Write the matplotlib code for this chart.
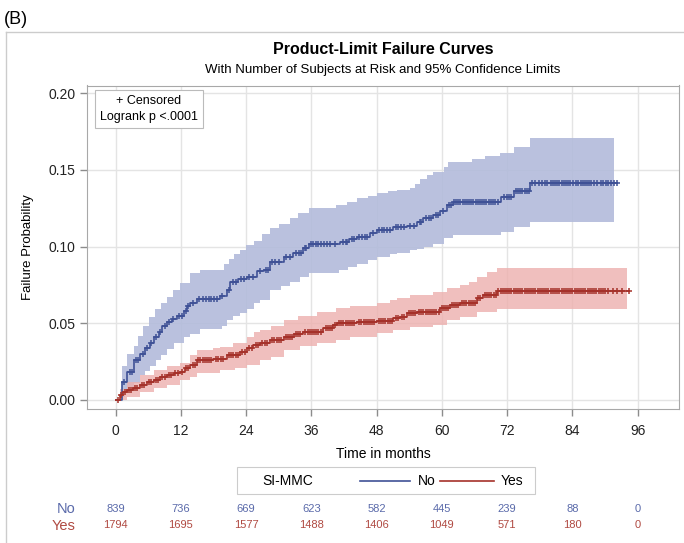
import numpy as np
import matplotlib.pyplot as plt
from matplotlib.patches import Rectangle
from matplotlib.lines import Line2D
import matplotlib.transforms as mtransforms

plt.rcParams["font.family"] = ["Liberation Sans", "DejaVu Sans"]

W, H = 684, 543

# failure curve, group "No"
t_no = [0, 1.1, 2.1, 3.3, 4.5, 5.4, 6.3, 7.1, 7.9, 8.6, 9.4, 10.4, 11.3, 12.5, 13.1, 13.7, 14.9,
        19.2, 20.4, 21.1, 22.5, 24.1, 26.0, 27.2, 28.4, 30.9, 32.7, 34.5, 35.5, 41.3, 43.0, 44.4,
        46.8, 48.0, 51.1, 53.6, 55.4, 56.6, 58.4, 59.7, 60.9, 62.0, 70.9, 73.2, 76.2, 92.2]
p_no = [0, 0.012, 0.018, 0.026, 0.030, 0.034, 0.037, 0.041, 0.044, 0.048, 0.051, 0.053, 0.055, 0.058,
        0.061, 0.063, 0.066, 0.068, 0.072, 0.077, 0.079, 0.080, 0.084, 0.085, 0.090, 0.093, 0.096,
        0.099, 0.102, 0.103, 0.105, 0.1065, 0.109, 0.111, 0.1126, 0.1134, 0.116, 0.119, 0.1206,
        0.1234, 0.127, 0.129, 0.1326, 0.1365, 0.1413, 0.1413]

t_no_hi = [0, 1.1, 2.1, 3.3, 4.2, 5.1, 6.2, 7.3, 8.3, 9.4, 10.6, 11.9, 13.7, 15.5, 20.0, 20.8, 21.8,
           22.9, 24.0, 25.5, 27.0, 28.4, 30.0, 32.1, 33.5, 35.5, 40.5, 42.5, 44.4, 46.5, 48.0, 50.0,
           51.7, 54.2, 55.0, 56.0, 57.2, 58.4, 60.3, 61.2, 65.5, 68.0, 70.7, 73.2, 76.2, 91.6]
p_no_hi = [0, 0.022, 0.030, 0.035, 0.042, 0.048, 0.054, 0.059, 0.063, 0.067, 0.072, 0.076, 0.083,
           0.085, 0.089, 0.092, 0.095, 0.098, 0.101, 0.104, 0.108, 0.112, 0.115, 0.119, 0.122, 0.125,
           0.127, 0.129, 0.1315, 0.133, 0.135, 0.136, 0.137, 0.138, 0.141, 0.144, 0.147, 0.149, 0.152,
           0.155, 0.157, 0.159, 0.161, 0.165, 0.171, 0.171]

t_no_lo = [0, 1.1, 1.7, 2.5, 3.3, 4.5, 5.4, 6.3, 7.5, 8.4, 9.4, 10.8, 12.5, 13.6, 15.5, 19.6, 20.4,
           21.5, 22.8, 24.1, 25.5, 26.6, 28.4, 30.5, 32.1, 34.0, 35.5, 41.0, 42.8, 44.4, 46.5, 48.0,
           50.5, 51.7, 54.2, 55.4, 56.8, 58.4, 60.3, 62.0, 70.9, 73.2, 76.2, 91.6]
p_no_lo = [0, 0.002, 0.0045, 0.008, 0.011, 0.016, 0.019, 0.022, 0.026, 0.029, 0.033, 0.037, 0.041,
           0.043, 0.046, 0.048, 0.052, 0.055, 0.057, 0.059, 0.063, 0.065, 0.0717, 0.074, 0.077, 0.080,
           0.0826, 0.085, 0.087, 0.089, 0.091, 0.0934, 0.095, 0.0956, 0.098, 0.0985, 0.100, 0.102,
           0.1054, 0.1076, 0.1097, 0.113, 0.116, 0.116]

# failure curve, group "Yes"
t_yes = [0, 0.8, 1.4, 2.1, 3.2, 4.5, 5.8, 7.0, 8.2, 9.4, 10.7, 11.9, 12.8, 13.7, 14.9, 18.0, 20.4,
         22.9, 24.2, 25.3, 26.6, 28.4, 30.9, 32.8, 34.5, 38.2, 40.0, 40.7, 44.4, 48.0, 51.1, 52.3,
         53.6, 55.4, 59.7, 61.5, 63.4, 66.4, 67.6, 70.1, 94.4]
p_yes = [0, 0.003, 0.005, 0.0065, 0.008, 0.0098, 0.0115, 0.013, 0.0148, 0.0163, 0.0175, 0.0185,
         0.021, 0.0228, 0.026, 0.027, 0.029, 0.0315, 0.034, 0.0358, 0.037, 0.039, 0.0413, 0.043,
         0.0445, 0.0467, 0.049, 0.0504, 0.051, 0.0517, 0.0532, 0.0543, 0.0565, 0.0576, 0.0598,
         0.062, 0.0635, 0.0663, 0.0685, 0.0711, 0.0711]

t_yes_hi = [0, 0.8, 2.1, 4.5, 7.0, 9.4, 11.9, 13.7, 14.9, 18.0, 19.2, 21.5, 24.1, 25.5, 26.6, 28.5,
            30.9, 33.5, 37.0, 40.5, 43.1, 48.0, 50.5, 51.7, 54.2, 58.4, 61.0, 63.4, 65.0, 66.4, 68.3,
            70.1, 94.0]
p_yes_hi = [0, 0.007, 0.012, 0.016, 0.0196, 0.022, 0.024, 0.029, 0.0326, 0.034, 0.0348, 0.037,
            0.041, 0.044, 0.0456, 0.048, 0.052, 0.055, 0.0576, 0.060, 0.061, 0.063, 0.065, 0.0663,
            0.0685, 0.0706, 0.073, 0.075, 0.077, 0.0804, 0.0837, 0.0859, 0.0859]

t_yes_lo = [0, 2.1, 4.5, 7.0, 9.4, 11.9, 13.7, 14.9, 19.2, 22.0, 24.1, 26.6, 28.5, 30.9, 34.0, 37.0,
            40.5, 43.1, 48.0, 51.0, 54.2, 58.4, 61.0, 63.4, 66.4, 70.1, 94.0]
p_yes_lo = [0, 0.002, 0.005, 0.0076, 0.010, 0.013, 0.015, 0.0174, 0.0196, 0.021, 0.0228, 0.026,
            0.028, 0.0326, 0.035, 0.037, 0.039, 0.0413, 0.0435, 0.0456, 0.0478, 0.049, 0.052, 0.0543,
            0.0576, 0.059, 0.059]

# censored times
cens_no = [1.6, 2.6, 3.0, 3.8, 4.2, 5.0, 5.8, 6.6, 7.4, 8.2, 9.0, 9.8, 10.6, 11.6, 12.2, 12.9, 13.4,
           14.2, 15.4, 16.0, 16.6, 17.1, 17.6, 18.1, 18.6, 19.6, 20.8, 21.6, 22.2, 23.0, 23.6, 24.6,
           25.2, 26.5, 27.6, 28.0, 28.8, 29.4, 30.0, 31.4, 32.0, 33.2, 33.8, 34.1, 34.8, 35.0, 35.9,
           36.3, 36.8, 37.3, 37.8, 38.3, 38.8, 39.4, 40.4, 41.8, 42.3, 42.6, 43.5, 43.9, 44.8, 45.3,
           45.8, 46.2, 47.3, 48.4, 48.9, 49.4, 49.9, 50.5, 51.6, 52.0, 52.5, 53.0, 54.2, 54.8, 55.9,
           56.2, 57.0, 57.6, 58.0, 58.9, 59.3, 60.2, 61.4, 61.7, 62.3, 62.6, 63.0, 63.4, 63.8, 64.2,
           64.6, 65.0, 65.4, 65.8, 66.2, 66.6, 67.0, 67.4, 67.8, 68.2, 68.6, 69.0, 69.4, 69.8, 70.3,
           71.5, 71.9, 72.3, 72.7, 73.6, 74.0, 74.4, 74.8, 75.2, 75.6, 76.0, 76.6, 77.2, 77.8, 78.4,
           78.9, 79.4, 80.0, 80.4, 80.8, 81.2, 81.6, 82.0, 82.4, 82.8, 83.2, 83.6, 84.1, 84.6, 85.1,
           85.5, 85.9, 86.3, 86.7, 87.1, 87.5, 88.0, 88.6, 89.2, 89.7, 90.2, 90.6, 91.1, 91.6, 92.2]
cens_yes = [0.5, 1.0, 1.8, 2.4, 2.8, 3.5, 3.9, 4.8, 5.3, 6.2, 6.6, 7.4, 7.8, 8.6, 9.0, 9.8, 10.2,
            11.0, 11.4, 12.2, 13.0, 13.4, 14.2, 14.6, 15.2, 15.6, 16.0, 16.4, 16.8, 17.2, 17.6, 18.4,
            18.8, 19.4, 19.8, 20.8, 21.2, 21.6, 22.1, 22.5, 23.3, 23.8, 24.6, 25.0, 25.8, 26.2, 27.0,
            27.4, 27.8, 28.8, 29.2, 29.6, 30.1, 30.5, 31.3, 31.7, 32.1, 32.5, 33.2, 33.6, 34.0, 34.9,
            35.3, 35.7, 36.1, 36.5, 36.9, 37.3, 37.7, 38.6, 39.0, 39.4, 39.8, 40.3, 41.1, 41.5, 41.9,
            42.3, 42.7, 43.1, 43.5, 43.9, 44.8, 45.2, 45.6, 46.0, 46.4, 46.8, 47.2, 47.6, 48.4, 48.8,
            49.2, 49.6, 50.0, 50.4, 50.8, 51.5, 51.9, 52.6, 53.0, 53.9, 54.3, 54.7, 55.1, 55.8, 56.2,
            56.6, 57.0, 57.4, 57.8, 58.2, 58.6, 59.0, 59.4, 60.0, 60.4, 60.8, 61.2, 61.8, 62.2, 62.6,
            63.0, 63.7, 64.1, 64.5, 64.9, 65.3, 65.7, 66.1, 66.7, 67.1, 67.9, 68.3, 68.7, 69.1, 69.5,
            69.9, 70.4, 70.8, 71.2, 71.6, 72.0, 72.4, 72.8, 73.2, 73.6, 74.0, 74.4, 74.8, 75.2, 75.6,
            76.0, 76.4, 76.8, 77.2, 77.6, 78.0, 78.4, 78.8, 79.2, 79.6, 80.0, 80.4, 80.8, 81.2, 81.6,
            82.0, 82.4, 82.8, 83.2, 83.6, 84.0, 84.4, 84.8, 85.2, 85.6, 86.0, 86.4, 86.8, 87.2, 87.6,
            88.0, 88.4, 88.8, 89.2, 89.6, 90.0, 90.5, 91.5, 92.2, 93.2, 94.4]

risk_times = [0, 12, 24, 36, 48, 60, 72, 84, 96]
risk_no = [839, 736, 669, 623, 582, 445, 239, 88, 0]
risk_yes = [1794, 1695, 1577, 1488, 1406, 1049, 571, 180, 0]

blue = "#3F5196"
red = "#A5312A"
blue_band = "#B3BBDB"
red_band = "#EDB0AE"
blue_txt = "#5A6AAA"
red_txt = "#B04A42"


def step_at(tt, pp, x):
    idx = np.searchsorted(tt, x, side="right") - 1
    return np.array(pp)[np.clip(idx, 0, len(pp) - 1)]


def band(ax, t_lo, p_lo, t_hi, p_hi, color, alpha):
    tt = np.union1d(t_lo, t_hi)
    tt = tt[tt <= min(t_lo[-1], t_hi[-1])]
    ax.fill_between(tt, step_at(t_lo, p_lo, tt), step_at(t_hi, p_hi, tt), step="post",
                    color=color, alpha=alpha, lw=0, zorder=2)


fig = plt.figure(figsize=(W / 100, H / 100), dpi=100)


def fx(x):
    return x / W


def fy(y):
    return 1 - y / H


# outer frame
fig.add_artist(Line2D([fx(6), 1.0], [fy(32), fy(32)], color="#CCCCCC", lw=1))
fig.add_artist(Line2D([fx(6), fx(6)], [fy(32), 0.0], color="#CCCCCC", lw=1))
fig.text(fx(4), fy(19), "(B)", fontsize=13, ha="left", va="center")

ax = fig.add_axes([fx(87.3), fy(409), fx(679) - fx(87.3), fy(85.5) - fy(409)])

band(ax, t_no_lo, p_no_lo, t_no_hi, p_no_hi, blue_band, 0.9)
band(ax, t_yes_lo, p_yes_lo, t_yes_hi, p_yes_hi, red_band, 0.8)

ax.step(t_no, p_no, where="post", color=blue, lw=1.2, zorder=4)
ax.step(t_yes, p_yes, where="post", color=red, lw=1.2, zorder=4)
ax.plot(cens_no, step_at(t_no, p_no, cens_no), ls="none", marker="+", ms=5, mew=1.1,
        color=blue, zorder=5)
ax.plot(cens_yes, step_at(t_yes, p_yes, cens_yes), ls="none", marker="+", ms=5, mew=1.1,
        color=red, zorder=5)

ax.set_xlim(-5.2, 103.6)
ax.set_ylim(-0.0059, 0.2051)
ax.set_xticks(risk_times)
ax.set_yticks([0.0, 0.05, 0.10, 0.15, 0.20])
ax.set_yticklabels(["0.00", "0.05", "0.10", "0.15", "0.20"])
ax.grid(True, color="#E4E4E4", lw=1, zorder=0)
ax.set_axisbelow(True)
for s in ax.spines.values():
    s.set_color("#A8A8A8")
ax.tick_params(colors="#8C8C8C", labelcolor="#222222", labelsize=10, length=5, width=1)
ax.tick_params(axis="x", pad=6)
ax.set_xlabel("Time in months", fontsize=10, labelpad=6)
ax.set_ylabel("Failure Probability", fontsize=9.5, labelpad=10)

# inset box
ax.text(0.104, 0.972, "+ Censored\nLogrank p <.0001", transform=ax.transAxes, ha="center",
        va="top", fontsize=9, linespacing=1.5,
        bbox=dict(boxstyle="square,pad=0.4", fc="white", ec="#BBBBBB", lw=0.8), zorder=6)

fig.text(fx(383), fy(50), "Product-Limit Failure Curves", fontsize=11.5, fontweight="bold",
         ha="center", va="center")
fig.text(fx(383), fy(70), "With Number of Subjects at Risk and 95% Confidence Limits",
         fontsize=9.5, ha="center", va="center")

# legend
fig.add_artist(Rectangle((fx(237), fy(494)), fx(535) - fx(237), fy(467) - fy(494),
                         transform=fig.transFigure, fc="white", ec="#CCCCCC", lw=0.8))
fig.text(fx(288), fy(481), "SI-MMC", fontsize=10, ha="center", va="center")
fig.add_artist(Line2D([fx(360), fx(410)], [fy(481), fy(481)], color=blue, lw=1.2))
fig.text(fx(418), fy(481), "No", fontsize=10, ha="left", va="center")
fig.add_artist(Line2D([fx(440), fx(494)], [fy(481), fy(481)], color=red, lw=1.2))
fig.text(fx(501), fy(481), "Yes", fontsize=10, ha="left", va="center")

# at-risk table
tr = mtransforms.blended_transform_factory(ax.transData, fig.transFigure)
fig.text(fx(75), fy(509), "No", fontsize=10.5, color=blue_txt, ha="right", va="center")
fig.text(fx(75), fy(525.5), "Yes", fontsize=10.5, color=red_txt, ha="right", va="center")
for t, n, y in zip(risk_times, risk_no, risk_yes):
    ax.text(t, fy(509), str(n), transform=tr, fontsize=8, color=blue_txt, ha="center",
            va="center")
    ax.text(t, fy(525.5), str(y), transform=tr, fontsize=8, color=red_txt, ha="center",
            va="center")

fig.savefig("out.png", dpi=100)
